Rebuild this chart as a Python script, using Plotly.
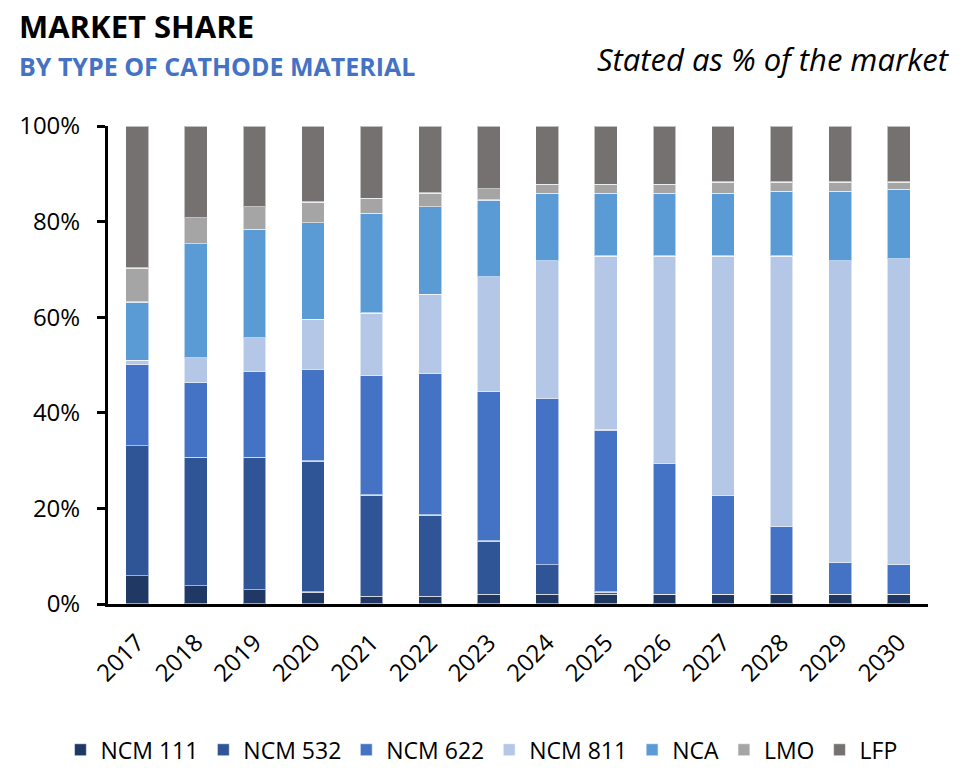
import plotly.graph_objects as go

years = ["2017", "2018", "2019", "2020", "2021", "2022", "2023",
         "2024", "2025", "2026", "2027", "2028", "2029", "2030"]

ncm111 = [5.9, 3.8, 3.0, 2.5, 1.6, 1.6, 2.0, 2.0, 2.0, 2.0, 2.0, 2.0, 2.0, 2.0]
ncm532 = [27.2, 26.9, 27.7, 27.4, 21.2, 17.0, 11.2, 6.2, 0.5, 0.0, 0.0, 0.0, 0.0, 0.0]
ncm622 = [17.0, 15.6, 17.9, 19.2, 25.0, 29.6, 31.2, 34.8, 33.9, 27.4, 20.7, 14.2, 6.6, 6.2]
ncm811 = [0.9, 5.2, 7.1, 10.5, 13.1, 16.6, 24.1, 28.8, 36.4, 43.4, 50.1, 56.6, 63.2, 64.0]
nca = [12.2, 23.9, 22.7, 20.2, 20.8, 18.3, 16.0, 14.1, 13.1, 13.1, 13.1, 13.5, 14.5, 14.6]
lmo = [7.1, 5.4, 4.7, 4.3, 3.2, 2.9, 2.4, 1.9, 1.9, 1.9, 2.4, 2.0, 2.0, 1.5]
lfp = [29.7, 19.2, 16.9, 15.9, 15.1, 14.0, 13.1, 12.2, 12.2, 12.2, 11.7, 11.7, 11.7, 11.7]

y_tick_vals = [0, 20, 40, 60, 80, 100]
y_tick_text = ["0%", "20%", "40%", "60%", "80%", "100%"]

series = [
    ("NCM 111", ncm111, "#1F3864"),
    ("NCM 532", ncm532, "#2F5597"),
    ("NCM 622", ncm622, "#4472C4"),
    ("NCM 811", ncm811, "#B4C7E7"),
    ("NCA", nca, "#5B9BD5"),
    ("LMO", lmo, "#A5A5A5"),
    ("LFP", lfp, "#767171"),
]

FONT = "Open Sans, Noto Sans, sans-serif"

fig = go.Figure()
for name, vals, color in series:
    fig.add_trace(go.Bar(
        x=years, y=vals, name=name,
        marker=dict(color=color, line=dict(color="rgba(255,255,255,0.55)", width=1.2)),
    ))

fig.update_layout(
    width=962, height=772,
    barmode="stack", bargap=0.61,
    plot_bgcolor="white", paper_bgcolor="white",
    margin=dict(l=108, r=34, t=126, b=168, autoexpand=False),
    font=dict(family=FONT, color="black", size=24),
    showlegend=True,
    legend=dict(orientation="h", x=-0.058, xanchor="left", y=-0.305, yanchor="middle",
                traceorder="normal", font=dict(family=FONT, size=23, color="black"),
                itemwidth=30, bgcolor="rgba(0,0,0,0)"),
    annotations=[
        dict(text="<b>MARKET SHARE</b>", xref="paper", yref="paper", x=-0.111, y=1.209,
             xanchor="left", yanchor="middle", showarrow=False,
             font=dict(family=FONT, size=31, color="black")),
        dict(text="<b>BY TYPE OF CATHODE MATERIAL</b>", xref="paper", yref="paper", x=-0.111, y=1.1255,
             xanchor="left", yanchor="middle", showarrow=False,
             font=dict(family=FONT, size=25, color="#4472C4")),
        dict(text="<i>Stated as % of the market</i>", xref="paper", yref="paper", x=1.029, y=1.14,
             xanchor="right", yanchor="middle", showarrow=False,
             font=dict(family=FONT, size=31, color="black")),
    ],
)

fig.update_yaxes(range=[0, 100], tickmode="array", tickvals=y_tick_vals, ticktext=y_tick_text,
                 showgrid=False, zeroline=False, showline=True, linecolor="black", linewidth=3,
                 ticks="outside", ticklen=8, tickwidth=3, tickcolor="black", automargin=False,
                 tickfont=dict(family=FONT, size=24, color="black"), ticklabelstandoff=12)
fig.update_xaxes(showgrid=False, showline=True, linecolor="black", linewidth=3, ticks="",
                 tickangle=-45, automargin=False, ticklabelstandoff=12,
                 tickfont=dict(family=FONT, size=24, color="black"))

fig.write_html("out.html", config={"displayModeBar": False},
               post_script="document.body.style.margin='0';document.body.style.overflow='hidden';")
